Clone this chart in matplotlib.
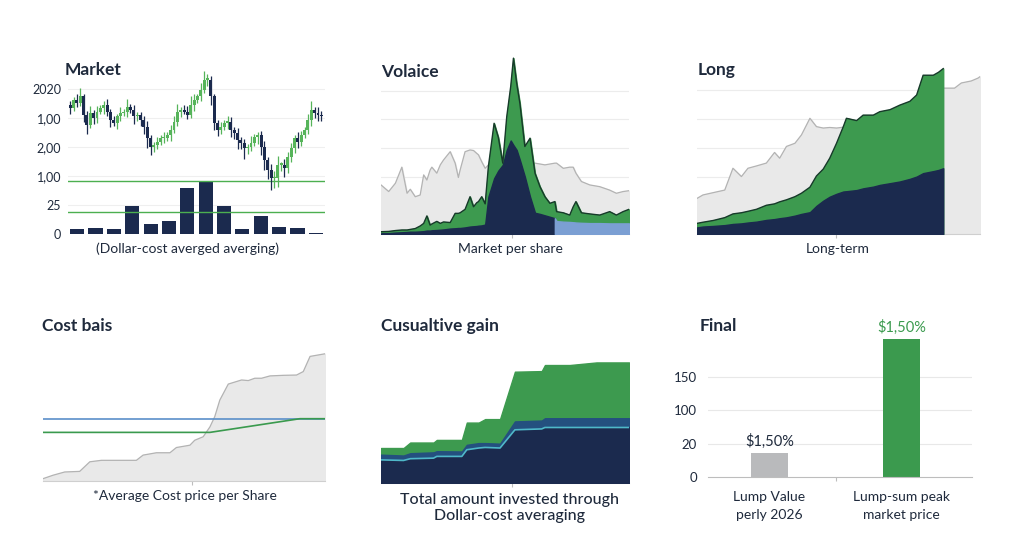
import matplotlib
matplotlib.use("Agg")
import matplotlib.pyplot as plt
import numpy as np

plt.rcParams['font.family'] = ['Lato', 'DejaVu Sans']

NAVY = '#1b2a4e'
GREEN = '#3d9a4f'
CGREEN = '#56b45a'
GRAYFILL = '#e9e9e9'
GRAYLINE = '#b3b3b3'
TXT = '#1f2a3c'

# ---- panel 1: market candles + monthly buys ----
mkt_ticks = ['0', '25', '1,00', '2,00', '1,00', '2020']
mkt_close = [4.45, 4.33, 4.62, 4.51, 4.74, 4.10, 3.76, 4.16, 3.99, 4.22, 4.33,
             4.45, 4.22, 3.93, 3.82, 4.05, 4.16, 4.22, 4.39, 4.28, 4.05, 4.10,
             3.93, 3.70, 3.30, 3.01, 3.07, 3.18, 3.30, 3.30, 3.41, 3.59, 3.87,
             4.22, 4.28, 4.22, 4.10, 4.45, 4.62, 4.74, 4.97, 5.31, 5.31, 4.74,
             3.82, 3.59, 3.70, 3.82, 3.87, 3.59, 3.47, 3.24, 3.13, 2.95, 3.01,
             3.13, 3.36, 3.41, 3.01, 2.55, 2.21, 1.92, 1.92, 2.38, 2.38, 2.26,
             2.67, 2.95, 3.30, 3.18, 3.41, 3.59, 3.93, 4.28, 4.16, 4.10, 4.05]
wick_hi = [0.15, 0.10, 0.20, 0.30, 0.10, 0.15, 0.25, 0.10, 0.20, 0.10,
           0.15, 0.20, 0.10, 0.15, 0.10, 0.20, 0.10, 0.25, 0.10, 0.15,
           0.10, 0.10, 0.15, 0.20, 0.10, 0.10, 0.15, 0.10, 0.20, 0.10,
           0.15, 0.20, 0.25, 0.10, 0.15, 0.20, 0.30, 0.20, 0.10, 0.25,
           0.30, 0.20, 0.15, 0.10, 0.10, 0.15, 0.10, 0.20, 0.15, 0.10,
           0.20, 0.10, 0.15, 0.10, 0.25, 0.10, 0.10, 0.15, 0.20, 0.10,
           0.20, 0.25, 0.30, 0.10, 0.20, 0.15, 0.20, 0.10, 0.20, 0.15,
           0.10, 0.20, 0.30, 0.10, 0.20, 0.15, 0.10, 0.10, 0.10, 0.10]
wick_lo = [0.20, 0.10, 0.15, 0.10, 0.25, 0.30, 0.10, 0.20, 0.15, 0.10,
           0.20, 0.15, 0.25, 0.10, 0.20, 0.15, 0.10, 0.20, 0.10, 0.25,
           0.15, 0.20, 0.25, 0.35, 0.30, 0.20, 0.15, 0.10, 0.15, 0.10,
           0.20, 0.10, 0.15, 0.20, 0.10, 0.15, 0.10, 0.20, 0.10, 0.15,
           0.10, 0.20, 0.30, 0.25, 0.20, 0.15, 0.10, 0.20, 0.25, 0.20,
           0.30, 0.20, 0.35, 0.20, 0.15, 0.10, 0.25, 0.30, 0.35, 0.30,
           0.40, 0.35, 0.30, 0.20, 0.30, 0.15, 0.20, 0.15, 0.20, 0.15,
           0.10, 0.15, 0.20, 0.15, 0.20, 0.15, 0.10, 0.10, 0.10, 0.10]
buy_amount = [0.16, 0.22, 0.16, 0.98, 0.34, 0.45, 1.58, 1.83, 0.98, 0.16,
              0.62, 0.25, 0.20, 0.05]
mkt_levels = [1.84, 0.77]

# ---- panel 2: volatility ----
vol_t = [0, 3.1, 5.8, 8.4, 10.5, 11.8, 13.8, 15.8, 17.2, 18.5, 19.8, 20.5,
         22.5, 23.9, 25.2, 27.9, 29.9, 31.2, 31.9, 33.9, 35.9, 37.3, 38.6,
         39.3, 40.6, 42.0, 43.3, 45.6, 47.3, 49.1, 50.7, 52.3, 53.4, 54.7,
         56.0, 58.0, 60.1, 62.1, 64.1, 66.1, 68.1, 70.1, 70.8, 73.5, 76.1,
         77.5, 78.6, 80.8, 84.2, 88.2, 92.2, 94.9, 97.6, 100]
vol_gray = [1.71, 1.48, 1.77, 2.33, 1.42, 1.56, 1.30, 1.36, 2.06, 1.88, 2.23,
            2.33, 2.12, 2.41, 2.58, 2.87, 2.47, 1.97, 2.23, 2.87, 2.93, 2.91,
            2.81, 2.76, 2.52, 2.29, 2.41, 2.41, 2.41, 2.41, 2.44, 2.44, 2.44,
            2.44, 2.44, 2.44, 2.44, 2.47, 2.44, 2.41, 2.44, 2.47, 2.47, 2.29,
            2.33, 2.33, 2.12, 1.83, 1.71, 1.65, 1.53, 1.42, 1.48, 1.51]
vol_green = [0.08, 0.09, 0.12, 0.14, 0.14, 0.16, 0.19, 0.28, 0.37, 0.63, 0.31,
             0.35, 0.44, 0.37, 0.42, 0.40, 0.72, 0.72, 0.74, 0.86, 1.30, 0.95,
             1.09, 1.13, 1.30, 1.05, 2.35, 3.86, 3.37, 2.47, 4.09, 5.14, 6.13,
             5.26, 4.56, 3.05, 3.34, 2.12, 1.65, 1.30, 1.07, 1.13, 0.78, 0.74,
             0.66, 0.95, 1.13, 0.74, 0.70, 0.66, 0.78, 0.66, 0.78, 0.86]
vol_base = [0.02, 0.03, 0.05, 0.06, 0.07, 0.08, 0.08, 0.09, 0.10, 0.12, 0.12,
            0.13, 0.14, 0.15, 0.16, 0.19, 0.20, 0.21, 0.21, 0.23, 0.26, 0.27,
            0.28, 0.29, 0.30, 0.33, 1.30, 1.94, 2.21, 2.41, 2.93, 3.26, 3.10,
            2.93, 2.58, 2.00, 1.30, 0.74, 0.70, 0.65, 0.60, 0.55, 0.45, 0.43,
            0.42, 0.41, 0.40, 0.39, 0.38, 0.38, 0.37, 0.37, 0.37, 0.37]
vol_split = 41  # index where the navy part hands over to light blue

# ---- panel 3: long-term ----
long_t = [0, 2.1, 5.7, 9.8, 12.7, 15.7, 18.0, 21.0, 24.5, 27.4, 29.2, 31.6,
          34.6, 36.9, 39.9, 42.2, 44.6, 46.9, 49.3, 51.7, 52.8, 56.4, 58.7,
          62.3, 64.6, 68.2, 71.7, 75.2, 77.6, 79.9, 83.5, 85.3, 87.0, 91.0,
          93.4, 96.9, 99.3, 101.7, 104.0]
long_gray = [1.24, 1.36, 1.44, 1.53, 2.29, 2.00, 2.29, 2.37, 2.47, 2.84, 2.64,
             3.05, 3.16, 3.45, 4.03, 3.74, 3.69, 3.71, 3.69, 3.72, 3.72, 3.80,
             3.90, 4.00, 4.10, 4.25, 4.40, 4.55, 4.70, 4.85, 4.95, 5.00, 5.08,
             5.08, 5.26, 5.33, 5.43, 5.60, 5.90]
long_green = [0.37, 0.41, 0.47, 0.57, 0.70, 0.74, 0.79, 0.86, 1.00, 1.05, 1.12,
              1.19, 1.30, 1.42, 1.63, 2.02, 2.26, 2.64, 3.16, 3.74, 4.03, 3.95,
              4.14, 4.14, 4.26, 4.33, 4.49, 4.62, 4.84, 5.53, 5.53, 5.63, 5.76]
long_navy = [0.23, 0.26, 0.28, 0.31, 0.35, 0.37, 0.40, 0.43, 0.49, 0.52, 0.55,
             0.58, 0.64, 0.70, 0.76, 0.98, 1.16, 1.30, 1.40, 1.48, 1.49, 1.53,
             1.59, 1.65, 1.71, 1.77, 1.83, 1.92, 2.00, 2.12, 2.19, 2.23, 2.29]

# ---- panel 4: cost basis ----
cost_t = [0, 3.6, 7.7, 13.0, 16.6, 20.7, 24.9, 33.1, 35.5, 40.2, 45.0, 47.3,
          52.1, 53.8, 56.8, 59.2, 60.9, 62.7, 65.7, 70.4, 72.8, 75.1, 77.5,
          80.5, 85.2, 89.9, 92.3, 94.7, 100]
cost_price = [0.08, 0.20, 0.31, 0.33, 0.66, 0.71, 0.71, 0.71, 0.89, 0.97, 0.97,
              1.15, 1.23, 1.40, 1.52, 1.86, 2.21, 2.78, 3.33, 3.47, 3.45, 3.53,
              3.53, 3.61, 3.63, 3.64, 3.76, 4.28, 4.37]
lump_cost = 2.14
avg_t = [0, 59.2, 91.1, 100]
avg_cost = [1.67, 1.67, 2.14, 2.14]

# ---- panel 5: cumulative gain ----
cum_t = [0, 9.1, 11.8, 21.2, 22.5, 32.6, 34.6, 39.4, 42.0, 48.0, 54.0, 64.8,
         66.1, 76.1, 86.9, 100]
cum_invested = [0.80, 0.78, 0.84, 0.86, 0.92, 0.92, 1.15, 1.21, 1.23, 1.21,
                1.84, 1.87, 1.92, 1.92, 1.92, 1.92]
cum_mid = [0.98, 0.95, 1.03, 1.06, 1.10, 1.09, 1.32, 1.38, 1.38, 1.36, 2.13,
           2.16, 2.24, 2.24, 2.24, 2.24]
cum_total = [1.21, 1.21, 1.40, 1.40, 1.49, 1.49, 2.09, 2.09, 2.21, 2.21, 3.85,
             3.87, 4.08, 4.08, 4.17, 4.17]

# ---- panel 6: final ----
final_cats = ['Lump Value\nperly 2026', 'Lump-sum peak\nmarket price']
final_vals = [0.72, 4.12]
final_labels = ['$1,50%', '$1,50%']
final_ticks = ['0', '20', '100', '150']

W, H = 1024, 559
fig = plt.figure(figsize=(W / 100, H / 100), dpi=100)
fig.patch.set_facecolor('white')


def px_axes(l, t, r, b):
    ax = fig.add_axes([l / W, 1 - b / H, (r - l) / W, (b - t) / H])
    for s in ['top', 'right', 'left']:
        ax.spines[s].set_visible(False)
    ax.spines['bottom'].set_color('#cfcfcf')
    ax.spines['bottom'].set_linewidth(0.8)
    ax.set_yticks([])
    return ax


def title(x, y, s):
    fig.text(x / W, 1 - y / H, s, fontsize=12.5, fontweight='bold', color=TXT,
             va='center', ha='left')


def caption(x, y, s, size=10, weight='normal'):
    fig.text(x / W, 1 - y / H, s, fontsize=size, color=TXT, va='center',
             ha='center', linespacing=1.15, fontweight=weight)


def center_tick(ax, xv):
    ax.set_xticks([xv])
    ax.set_xticklabels([])
    ax.tick_params(axis='x', length=3, color='#bdbdbd')


# panel 1
ax1 = px_axes(68, 66, 325, 234)
ax1.set_xlim(0, 14)
ax1.set_ylim(0, 5.79)
ax1.set_yticks(range(6))
ax1.set_yticklabels(mkt_ticks, fontsize=9, color=TXT)
ax1.tick_params(axis='y', length=0, pad=5)
ax1.set_xticks([])
for yv in range(1, 6):
    ax1.axhline(yv, color='#efefef', lw=0.8, zorder=0)
ax1.bar(np.arange(len(buy_amount)) + 0.5, buy_amount, width=0.77,
        color=NAVY, zorder=2)
for lv in mkt_levels:
    ax1.axhline(lv, color='#4caf50', lw=1.0, zorder=3)
n = len(mkt_close) - 1
xs = np.linspace(0.12, 13.8, n)
for i in range(n):
    o, c = mkt_close[i], mkt_close[i + 1]
    col = CGREEN if c >= o else NAVY
    lo, hi = min(o, c), max(o, c)
    ax1.vlines(xs[i], lo - wick_lo[i], hi + wick_hi[i], color=col, lw=0.9, zorder=4)
    ax1.bar(xs[i], max(hi - lo, 0.06), bottom=lo, width=0.16, color=col, zorder=5)
ax1.spines['bottom'].set_visible(False)
title(65, 70, 'Market')
caption(187, 249, '(Dollar-cost averged averging)')

# panel 2
ax2 = px_axes(381, 55, 629, 234)
ax2.set_xlim(0, 100)
ax2.set_ylim(0, 6.24)
for yv in range(1, 6):
    ax2.axhline(yv, color='#ececec', lw=0.8, zorder=0)
ax2.fill_between(vol_t, vol_gray, color=GRAYFILL, zorder=1)
ax2.plot(vol_t, vol_gray, color=GRAYLINE, lw=0.9, zorder=2)
ax2.fill_between(vol_t, vol_green, color=GREEN, zorder=3)
ax2.plot(vol_t, vol_green, color='#173a2a', lw=1.0, zorder=5)
ax2.fill_between(vol_t[:vol_split + 1], vol_base[:vol_split + 1], color=NAVY, zorder=4)
ax2.fill_between(vol_t[vol_split:], vol_base[vol_split:], color='#7b9fd3', zorder=4)
center_tick(ax2, 53)
title(381, 72, 'Volaice')
caption(510, 249, 'Market per share')

# panel 3
ax3 = px_axes(697, 60, 980, 234)
ax3.set_xlim(0, 100)
ax3.set_ylim(0, 6.06)
for yv in range(1, 6):
    ax3.axhline(yv, color='#ececec', lw=0.8, zorder=0)
k = len(long_green)
ax3.fill_between(long_t, long_gray, color=GRAYFILL, zorder=1)
ax3.plot(long_t, long_gray, color=GRAYLINE, lw=0.9, zorder=2)
ax3.fill_between(long_t[:k], long_green, color=GREEN, zorder=3)
ax3.plot(long_t[:k], long_green, color='#173a2a', lw=1.0, zorder=5)
ax3.fill_between(long_t[:k], long_navy, color=NAVY, zorder=4)
center_tick(ax3, 49)
title(698, 70, 'Long')
caption(838, 249, 'Long-term')

# panel 4
ax4 = px_axes(43, 350, 325, 481)
ax4.set_xlim(0, 100)
ax4.set_ylim(0, 4.5)
ax4.fill_between(cost_t, cost_price, color=GRAYFILL, zorder=1)
ax4.plot(cost_t, cost_price, color=GRAYLINE, lw=0.9, zorder=2)
ax4.axhline(lump_cost, color='#5b8fc9', lw=1.2, zorder=3)
ax4.plot(avg_t, avg_cost, color='#3a9a4e', lw=1.2, zorder=4)
center_tick(ax4, 53)
title(42, 326, 'Cost bais')
caption(185, 496, '*Average Cost price per Share')

# panel 5
ax5 = px_axes(381, 350, 629, 483)
ax5.set_xlim(0, 100)
ax5.set_ylim(0, 4.6)
ax5.fill_between(cum_t, cum_total, color=GREEN, zorder=1)
ax5.fill_between(cum_t, cum_mid, color='#24507f', zorder=2)
ax5.fill_between(cum_t, cum_invested, color=NAVY, zorder=3)
ax5.plot(cum_t, cum_invested, color='#4fb8c9', lw=1.2, zorder=4)
center_tick(ax5, 53)
title(381, 326, 'Cusualtive gain')
caption(510, 508, 'Total amount invested through\nDollar-cost averaging', size=11.5,
        weight='medium')

# panel 6
ax6 = px_axes(708, 330, 972, 477)
ax6.set_xlim(-0.464, 1.53)
ax6.set_ylim(0, 4.4)
ax6.set_yticks(range(4))
ax6.set_yticklabels(final_ticks, fontsize=9.5, color=TXT)
ax6.tick_params(axis='y', length=0, pad=8)
for yv in range(1, 4):
    ax6.axhline(yv, color='#e8e8e8', lw=0.8, zorder=0)
bars = ax6.bar([0, 1], final_vals, width=0.28, color=['#b9babc', '#3b9a4e'], zorder=2)
for b, lab, col in zip(bars, final_labels, [TXT, '#3b9a4e']):
    ax6.text(b.get_x() + b.get_width() / 2, b.get_height() + 0.12, lab,
             ha='center', va='bottom', fontsize=10.5, color=col)
ax6.spines['bottom'].set_color('#bdbdbd')
center_tick(ax6, 0.5)
for xi, lab in enumerate(final_cats):
    ax6.text(xi, -0.42, lab, ha='center', va='top', fontsize=10, color=TXT,
             linespacing=1.55)
title(700, 326, 'Final')

fig.savefig('out.png', dpi=100, facecolor='white')
